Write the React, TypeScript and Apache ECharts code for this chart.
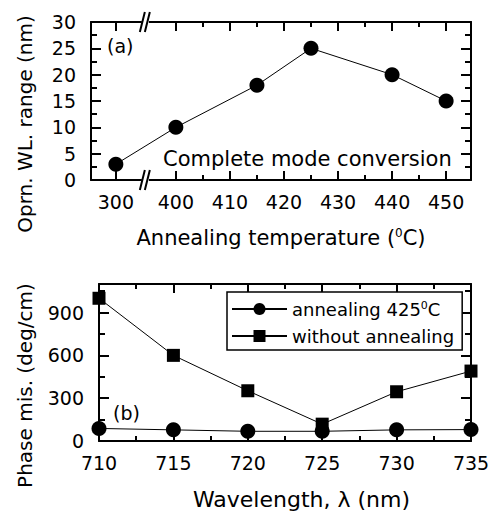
import { useEffect, useRef } from 'react';
import * as echarts from 'echarts';

// ---- data (a) ----
const tempValues = [300, 400, 415, 425, 440, 450];
const wlRange = [3, 10, 18, 25, 20, 15];
const tempMajorTicks = [300, 400, 410, 420, 430, 440, 450];
const tempMinorTicks = [405, 415, 425, 435, 445];

// ---- data (b) ----
const wavelengths = [710, 715, 720, 725, 730, 735];
const phaseAnnealed = [88, 78, 68, 68, 78, 80];
const phaseNotAnnealed = [1000, 600, 352, 118, 345, 490];
const seriesNames = ['annealing 425°C', 'without annealing'];

const FONT = 'DejaVu Sans';
const INK = '#000';

const lineStyle = { color: INK, width: 2 };
const tickStyle = { color: INK, width: 2 };

function tempAxis(position: string, major: boolean, withLabel: boolean) {
  return {
    type: 'value',
    gridIndex: 0,
    position,
    min: 295.4,
    max: 454.6,
    breaks: [{ start: 305, end: 395, gap: 1.1 }],
    breakArea: { show: false },
    axisLine: { show: major, onZero: false, lineStyle },
    axisTick: {
      show: true,
      inside: true,
      length: major ? 9 : 5,
      lineStyle: tickStyle,
      customValues: major ? tempMajorTicks : tempMinorTicks,
    },
    axisLabel: {
      show: withLabel,
      customValues: tempMajorTicks,
      color: INK,
      fontFamily: FONT,
      fontSize: 19,
      margin: 12,
    },
    splitLine: { show: false },
    ...(withLabel
      ? {
          name: 'Annealing temperature ({sup|0}C)',
          nameLocation: 'middle',
          nameGap: 47,
          nameTextStyle: {
            color: INK,
            fontFamily: FONT,
            fontSize: 21,
            rich: { sup: { fontSize: 12, verticalAlign: 'top', fontFamily: FONT, color: INK } },
          },
        }
      : {}),
  };
}

function yAxisCfg(grid: number, position: string, max: number, interval: number, extra: any) {
  return {
    type: 'value',
    gridIndex: grid,
    position,
    min: 0,
    max,
    interval,
    axisLine: { show: true, onZero: false, lineStyle },
    axisTick: { show: true, inside: true, length: 10, lineStyle: tickStyle },
    minorTick: { show: true, splitNumber: 2, length: 6, lineStyle: tickStyle },
    splitLine: { show: false },
    ...extra,
  };
}

export default function App() {
  const ref = useRef<HTMLDivElement>(null);
  useEffect(() => {
    if (!ref.current) return;
    const chart = echarts.init(ref.current, null, { renderer: 'svg' });
    const option: any = {
      animation: false,
      backgroundColor: '#fff',
      grid: [
        { left: 91, right: 24, top: 22, height: 158 },
        { left: 99, right: 24, top: 284, height: 159 },
      ],
      legend: {
        show: true,
        orient: 'vertical',
        left: 227,
        top: 292,
        padding: [8, 8, 5, 4],
        itemGap: 9,
        itemWidth: 55,
        itemHeight: 15,
        borderColor: INK,
        borderWidth: 1.5,
        backgroundColor: '#fff',
        data: seriesNames,
        formatter: (name: string) => name.replace('°', '{sup|0}'),
        textStyle: {
          color: INK,
          fontFamily: FONT,
          fontSize: 18,
          rich: { sup: { fontSize: 11, verticalAlign: 'top', fontFamily: FONT, color: INK } },
        },
      },
      xAxis: [
        tempAxis('bottom', true, true),
        tempAxis('bottom', false, false),
        tempAxis('top', true, false),
        tempAxis('top', false, false),
        {
          type: 'value',
          gridIndex: 1,
          position: 'bottom',
          min: 710,
          max: 735,
          interval: 5,
          axisLine: { show: true, onZero: false, lineStyle },
          axisTick: { show: true, inside: true, length: 9, lineStyle: tickStyle },
          minorTick: { show: true, splitNumber: 2, length: 5, lineStyle: tickStyle },
          axisLabel: { color: INK, fontFamily: FONT, fontSize: 19, margin: 12 },
          splitLine: { show: false },
          name: 'Wavelength, λ (nm)',
          nameLocation: 'middle',
          nameGap: 47,
          nameTextStyle: { color: INK, fontFamily: FONT, fontSize: 22, padding: [0, 0, 0, 33] },
        },
        {
          type: 'value',
          gridIndex: 1,
          position: 'top',
          min: 710,
          max: 735,
          interval: 5,
          axisLine: { show: true, onZero: false, lineStyle },
          axisTick: { show: true, inside: true, length: 9, lineStyle: tickStyle },
          minorTick: { show: true, splitNumber: 2, length: 5, lineStyle: tickStyle },
          axisLabel: { show: false },
          splitLine: { show: false },
        },
      ],
      yAxis: [
        yAxisCfg(0, 'left', 30, 5, {
          axisLabel: { color: INK, fontFamily: FONT, fontSize: 19, margin: 15 },
          name: 'Oprn. WL. range (nm)',
          nameLocation: 'middle',
          nameGap: 56,
          nameTextStyle: { color: INK, fontFamily: FONT, fontSize: 20, padding: [0, 46, 0, 0] },
        }),
        yAxisCfg(0, 'right', 30, 5, { axisLabel: { show: false } }),
        yAxisCfg(1, 'left', 1100, 300, {
          axisLabel: { color: INK, fontFamily: FONT, fontSize: 19, margin: 15, showMaxLabel: false },
          name: 'Phase mis. (deg/cm)',
          nameLocation: 'middle',
          nameGap: 64,
          nameTextStyle: { color: INK, fontFamily: FONT, fontSize: 20, padding: [0, 46, 0, 0] },
        }),
        yAxisCfg(1, 'right', 1100, 300, { axisLabel: { show: false } }),
      ],
      series: [
        {
          type: 'line',
          name: 'Complete mode conversion',
          xAxisIndex: 0,
          yAxisIndex: 0,
          data: tempValues.map((t, i) => [t, wlRange[i]]),
          symbol: 'circle',
          symbolSize: 15,
          itemStyle: { color: INK },
          lineStyle: { color: INK, width: 1 },
        },
        {
          type: 'line',
          name: seriesNames[0],
          xAxisIndex: 4,
          yAxisIndex: 2,
          data: wavelengths.map((w, i) => [w, phaseAnnealed[i]]),
          symbol: 'circle',
          symbolSize: 15,
          itemStyle: { color: INK },
          lineStyle: { color: INK, width: 1 },
        },
        {
          type: 'line',
          name: seriesNames[1],
          xAxisIndex: 4,
          yAxisIndex: 2,
          data: wavelengths.map((w, i) => [w, phaseNotAnnealed[i]]),
          symbol: 'rect',
          symbolSize: 13,
          itemStyle: { color: INK },
          lineStyle: { color: INK, width: 1 },
        },
      ],
    };
    chart.setOption(option);

    // axis-break marks "//" on the top and bottom edges of panel (a)
    const bx =
      ((chart.convertToPixel({ xAxisIndex: 0 }, 305) as number) +
        (chart.convertToPixel({ xAxisIndex: 0 }, 395) as number)) /
      2;
    const yTop = chart.convertToPixel({ yAxisIndex: 0 }, 30) as number;
    const yBot = chart.convertToPixel({ yAxisIndex: 0 }, 0) as number;
    const breakMark = (y: number) => ({
      type: 'group',
      children: [
        { type: 'rect', shape: { x: bx - 4, y: y - 3, width: 7, height: 6 }, style: { fill: '#fff' }, z: 100 },
        { type: 'line', shape: { x1: bx - 6, y1: y + 10, x2: bx - 1, y2: y - 10 }, style: { stroke: INK, lineWidth: 2 }, z: 101 },
        { type: 'line', shape: { x1: bx - 1, y1: y + 10, x2: bx + 4, y2: y - 10 }, style: { stroke: INK, lineWidth: 2 }, z: 101 },
      ],
    });
    chart.setOption({
      graphic: [
        breakMark(yTop),
        breakMark(yBot),
        {
          type: 'text',
          left: 107,
          top: 36,
          style: { text: '(a)', fill: INK, font: `19px "${FONT}"` },
        },
        {
          type: 'text',
          left: 113,
          top: 403,
          style: { text: '(b)', fill: INK, font: `19px "${FONT}"` },
        },
        {
          type: 'text',
          left: 163,
          top: 148,
          style: { text: 'Complete mode conversion', fill: INK, font: `21px "${FONT}"` },
        },
      ],
    });
    return () => chart.dispose();
  }, []);
  return <div ref={ref} style={{ position: 'fixed', left: 0, top: 0, width: 495, height: 511 }} />;
}
